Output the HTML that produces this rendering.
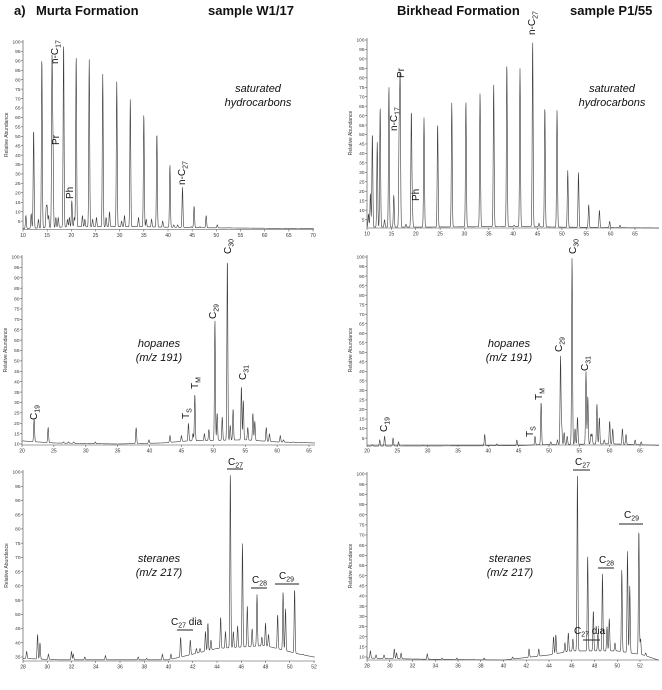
<!DOCTYPE html>
<html><head><meta charset="utf-8">
<style>
html,body{margin:0;padding:0;background:#fff;}
body{width:662px;height:685px;overflow:hidden;font-family:"Liberation Sans",sans-serif;}
svg text{font-family:"Liberation Sans",sans-serif;}
</style></head>
<body>
<svg id="fig" width="662" height="685" viewBox="0 0 662 685" xmlns="http://www.w3.org/2000/svg">
<g font-weight="bold" font-size="13" fill="#111">
<text x="14" y="15">a)</text>
<text x="36" y="15">Murta Formation</text>
<text x="208" y="15">sample W1/17</text>
<text x="397" y="15">Birkhead Formation</text>
<text x="570" y="15">sample P1/55</text>
</g>
</svg>
<script>
// ---- data arrays: [retention time (min), relative abundance] ----
const satLeftPeaks = [[10.6,8],[11.7,9],[12.2,54],[13.2,6],[13.9,92],[14.8,12],[15.0,12],[15.3,8],[16.0,89],[16.2,45],[16.8,7],[17.3,7],[18.4,100],[19.2,6],[19.6,7],[20.1,16],[20.6,7],[21.0,93],[22.3,8],[22.8,6],[23.7,91],[24.4,6],[25.2,7],[26.5,83],[27.2,7],[27.9,10],[29.4,79],[30.4,5],[31.0,8],[32.2,70],[33.9,7],[35.0,62],[35.5,6],[36.6,6],[37.7,52],[38.9,5],[40.4,35],[41.2,3],[42.0,3],[43.0,23],[44.8,2],[45.4,13],[46.6,2],[47.9,8],[50.2,3],[52.6,1.5]];
const satLeftBase = [[10,1],[20,2],[35,2],[45,1.5],[70,1]];
const hopLeftPeaks = [[21.9,22],[24.1,18],[26.5,11],[27.3,11],[28.1,11],[31.5,11],[37.9,18],[39.9,12],[43.2,14],[45.0,14],[46.1,20],[46.8,15],[47.1,34],[48.6,15],[49.3,17],[50.25,70],[50.6,25],[51.4,23],[52.2,100],[52.65,19],[53.1,27],[54.4,38],[54.7,31],[55.4,18],[56.2,25],[56.5,21],[58.3,18],[58.8,15],[60.5,14],[61.0,12],[62.5,11]];
const hopLeftBase = [[20,11.5],[25,10.5],[35,10],[42,10.5],[46,11.5],[55,12],[60,11],[66,10.5]];
const sterLeftPeaks = [[28.3,37],[29.2,43],[29.4,40],[30.1,36],[32.0,37],[32.15,36],[33.1,35],[34.8,35.5],[37.5,35],[38.2,34.5],[39.5,36],[40.2,36],[41.0,42],[41.8,41],[42.3,38],[42.6,38],[43.05,44],[43.25,47],[43.5,41],[44.3,49],[44.7,44],[45.1,100],[45.35,44],[45.7,46],[46.1,75],[46.5,53],[46.9,45],[47.3,57],[47.7,42],[48.0,47],[48.25,43],[49.0,50],[49.45,58],[49.65,52],[50.4,59],[51.1,36]];
const sterLeftBase = [[28,34.5],[31,34],[40,34],[42,36],[44,38],[48,39],[50.8,36],[52,35]];
const satRightPeaks = [[10.3,8],[10.7,19],[11.1,51],[12.1,46],[12.7,65],[13.6,5],[14.5,76],[15.5,18],[16.6,50],[16.8,78],[18.0,2.5],[19.1,62],[19.3,12],[21.7,59],[24.5,56],[27.4,67],[30.3,68],[33.2,72],[36.0,77],[38.7,88],[40.2,2],[41.4,85],[44.0,100],[45.3,3],[46.5,65],[49.0,63],[51.2,31],[53.4,30],[55.5,13],[57.7,10],[59.8,4],[61.9,2]];
const satRightBase = [[10,1],[20,1],[40,1.3],[50,1],[70,0.5]];
const hopRightPeaks = [[20.9,1.5],[22.1,4],[22.9,6],[24.3,5],[25.2,3],[29.3,1],[39.4,7],[41.4,2],[44.7,4],[47.7,6],[48.7,24],[50.3,3],[51.4,4],[51.9,48],[52.1,11],[52.5,8],[53.0,6],[53.8,100],[54.3,10],[54.7,16],[56.1,40],[56.4,27],[56.9,7],[57.1,7],[57.9,23],[58.3,16],[59.1,4],[60.0,14],[60.5,10],[62.1,10],[62.7,7],[64.2,4],[65.2,3]];
const hopRightBase = [[20,0.8],[45,1],[48,1.5],[60,2],[68,1.2]];
const sterRightPeaks = [[28.3,13],[28.8,11],[29.5,11],[30.4,14],[30.6,12],[31.0,12],[33.3,11.5],[34.6,9.5],[35.9,9.5],[38.3,9.5],[40.8,10],[42.25,14],[43.1,14],[44.4,20],[44.6,21],[45.4,17],[45.7,22],[46.1,19],[46.5,100],[47.4,60],[47.9,33],[48.3,22],[48.7,51],[49.1,25],[49.3,29],[49.8,17],[50.4,53],[50.9,62],[51.1,45],[51.9,73],[52.05,19],[52.5,12]];
const sterRightBase = [[28,9.5],[32,9],[40,8.5],[44,11],[46,13],[50,13],[52.3,11],[53.6,8.5]];

const satLeftXTicks = [10,15,20,25,30,35,40,45,50,55,60,65,70];
const satRightXTicks = [10,15,20,25,30,35,40,45,50,55,60,65];
const hopXTicks = [20,25,30,35,40,45,50,55,60,65];
const sterXTicks = [28,30,32,34,36,38,40,42,44,46,48,50,52];

const NS='http://www.w3.org/2000/svg';
const svg=document.getElementById('fig');
function mk(tag,attrs,parent){const e=document.createElementNS(NS,tag);for(const k in attrs)e.setAttribute(k,attrs[k]);(parent||svg).appendChild(e);return e;}

function panel(cfg){
  const g=mk('g',{});
  
  
  const sx=v=>cfg.x0+(v-cfg.t0)*(cfg.x1-cfg.x0)/(cfg.t1-cfg.t0);
  const sy=v=>cfg.y0+(v-cfg.v0)*(cfg.y1-cfg.y0)/(cfg.v1-cfg.v0);
  const pxPerMin=(cfg.x1-cfg.x0)/(cfg.t1-cfg.t0);
  const sig=0.45/pxPerMin;
  function base(t){const b=cfg.base;if(t<=b[0][0])return b[0][1];for(let i=1;i<b.length;i++){if(t<=b[i][0]){const f=(t-b[i-1][0])/(b[i][0]-b[i-1][0]);return b[i-1][1]+f*(b[i][1]-b[i-1][1]);}}return b[b.length-1][1];}
  let d='';
  for(let px=sx(cfg.t0);px<=cfg.xEnd;px+=0.25){
    const t=cfg.t0+(px-cfg.x0)/pxPerMin;
    const b=base(t);let v=b;
    for(const p of cfg.peaks){const dt=(t-p[0])/sig;if(Math.abs(dt)<5){v+=(p[1]-b)*Math.exp(-0.5*dt*dt);}}
    v=Math.min(v,100.5);
    d+=(d?'L':'M')+px.toFixed(2)+','+sy(v).toFixed(2);
  }
  const tr=mk('path',{d:d,fill:'none',stroke:'#3a3a3a','stroke-width':'0.6'},g);
  
  
  const yTop=sy(100)-2;
  const ax=mk('path',{d:`M${cfg.x0},${yTop}V${cfg.axisY}H${cfg.xEnd}`,fill:'none',stroke:'#444','stroke-width':'0.6'},g);
  
  
  for(let v=cfg.yTickStart;v<=100;v+=5){
    const y=sy(v);
    mk('line',{x1:cfg.x0-2,x2:cfg.x0,y1:y,y2:y,stroke:'#444','stroke-width':'0.5'},g);
    const tl=mk('text',{x:cfg.x0-2.5,y:y+1.7,'font-size':'4.8','text-anchor':'end',fill:'#333'},g);
    tl.textContent=v;
    
    
  }
  for(const t of cfg.xTicks){
    const x=sx(t);
    mk('line',{x1:x,x2:x,y1:cfg.axisY,y2:cfg.axisY+2,stroke:'#444','stroke-width':'0.5'},g);
    const tl=mk('text',{x:x,y:cfg.axisY+7.5,'font-size':'5','text-anchor':'middle',fill:'#333'},g);
    tl.textContent=t;
    
    
  }
  const yt=mk('text',{x:0,y:0,'font-size':'5','text-anchor':'middle',fill:'#333',transform:`translate(${cfg.x0-15},${(yTop+cfg.axisY)/2}) rotate(-90)`},g);
  yt.textContent='Relative Abundance';
  
  
  return g;
}
function lbl(g,x,y,main,sub,rot,extra,name){
  const t=mk('text',{x:0,y:0,'font-size':'10',fill:'#111',transform:`translate(${x},${y})`+(rot?' rotate(-90)':'')},g);
  
  
  const a=mk('tspan',{},t);a.textContent=main;
  if(sub){const s=mk('tspan',{'font-size':'7',dy:'2.5'},t);s.textContent=sub;}
  if(extra){const e=mk('tspan',{dy:'-2.5'},t);e.textContent=extra;}
}
function bar(g,x1,x2,y){const l=mk('line',{x1:x1,x2:x2,y1:y,y2:y,stroke:'#222','stroke-width':'1'},g);}
function ital(g,x,y,lines,name){
  const t=mk('text',{x:x,y:y,'font-size':'11','font-style':'italic','text-anchor':'middle',fill:'#111'},g);
  
  
  lines.forEach((s,i)=>{const ts=mk('tspan',{x:x,dy:i?14:0},t);ts.textContent=s;});
}

let g;
g=panel({name:'saturates-murta',peaks:satLeftPeaks,base:satLeftBase,x0:23,x1:313,t0:10,t1:70,xEnd:314,y0:230.5,y1:42,v0:0,v1:100,axisY:229.5,yTickStart:5,xTicks:satLeftXTicks});
lbl(g,58,64,'n-C','17',true,null,'label-n-c17');lbl(g,59,145,'Pr',null,true,null,'label-pr');lbl(g,73,199,'Ph',null,true,null,'label-ph');lbl(g,185,185,'n-C','27',true,null,'label-n-c27');
ital(g,258,92,['saturated','hydrocarbons'],'label-saturated-hydrocarbons');

g=panel({name:'hopanes-murta',peaks:hopLeftPeaks,base:hopLeftBase,x0:22,x1:309,t0:20,t1:65,xEnd:315,y0:444,y1:257,v0:10,v1:100,axisY:445,yTickStart:10,xTicks:hopXTicks});
lbl(g,37,420,'C','19',true,null,'label-c19');lbl(g,189,419,'T','S',true,null,'label-ts');lbl(g,198,389,'T','M',true,null,'label-tm');
lbl(g,216,319,'C','29',true,null,'label-c29');lbl(g,231,254,'C','30',true,null,'label-c30');lbl(g,246,380,'C','31',true,null,'label-c31');
ital(g,159,347,['hopanes','(m/z 191)'],'label-hopanes');

g=panel({name:'steranes-murta',peaks:sterLeftPeaks,base:sterLeftBase,x0:23,x1:314,t0:28,t1:52,xEnd:315,y0:657,y1:472,v0:35,v1:100,axisY:661,yTickStart:35,xTicks:sterXTicks});
lbl(g,228,465,'C','27',false,null,'label-c27');bar(g,227,243,469);
lbl(g,252,583,'C','28',false,null,'label-c28');bar(g,251,267,588);
lbl(g,279,579,'C','29',false,null,'label-c29-group');bar(g,275,299,584);
lbl(g,171,625,'C','27',false,' dia','label-c27-dia');bar(g,177,193,630);
ital(g,159,562,['steranes','(m/z 217)'],'label-steranes');

g=panel({name:'saturates-birkhead',peaks:satRightPeaks,base:satRightBase,x0:367,x1:635,t0:10,t1:65,xEnd:659,y0:229,y1:40,v0:0,v1:100,axisY:228,yTickStart:5,xTicks:satRightXTicks});
lbl(g,397,131,'n-C','17',true,null,'label-n-c17');lbl(g,404,78,'Pr',null,true,null,'label-pr');lbl(g,419,201,'Ph',null,true,null,'label-ph');lbl(g,535,35,'n-C','27',true,null,'label-n-c27');
ital(g,612,92,['saturated','hydrocarbons'],'label-saturated-hydrocarbons');

g=panel({name:'hopanes-birkhead',peaks:hopRightPeaks,base:hopRightBase,x0:367,x1:640,t0:20,t1:65,xEnd:659,y0:447.6,y1:257,v0:0,v1:100,axisY:445,yTickStart:5,xTicks:hopXTicks});
lbl(g,387,432,'C','19',true,null,'label-c19');lbl(g,533,437,'T','S',true,null,'label-ts');lbl(g,542,400,'T','M',true,null,'label-tm');
lbl(g,562,352,'C','29',true,null,'label-c29');lbl(g,576,254,'C','30',true,null,'label-c30');lbl(g,588,371,'C','31',true,null,'label-c31');
ital(g,509,347,['hopanes','(m/z 191)'],'label-hopanes');

g=panel({name:'steranes-birkhead',peaks:sterRightPeaks,base:sterRightBase,x0:367,x1:640,t0:28,t1:52,xEnd:659,y0:657,y1:474,v0:10,v1:100,axisY:660,yTickStart:10,xTicks:sterXTicks});
lbl(g,575,465,'C','27',false,null,'label-c27');bar(g,573,590,470);
lbl(g,624,518,'C','29',false,null,'label-c29-group');bar(g,619,643,524);
lbl(g,599,563,'C','28',false,null,'label-c28');bar(g,598,614,568);
lbl(g,574,634,'C','27',false,' dia','label-c27-dia');bar(g,583,600,640);
ital(g,510,562,['steranes','(m/z 217)'],'label-steranes');
</script>
</body></html>
